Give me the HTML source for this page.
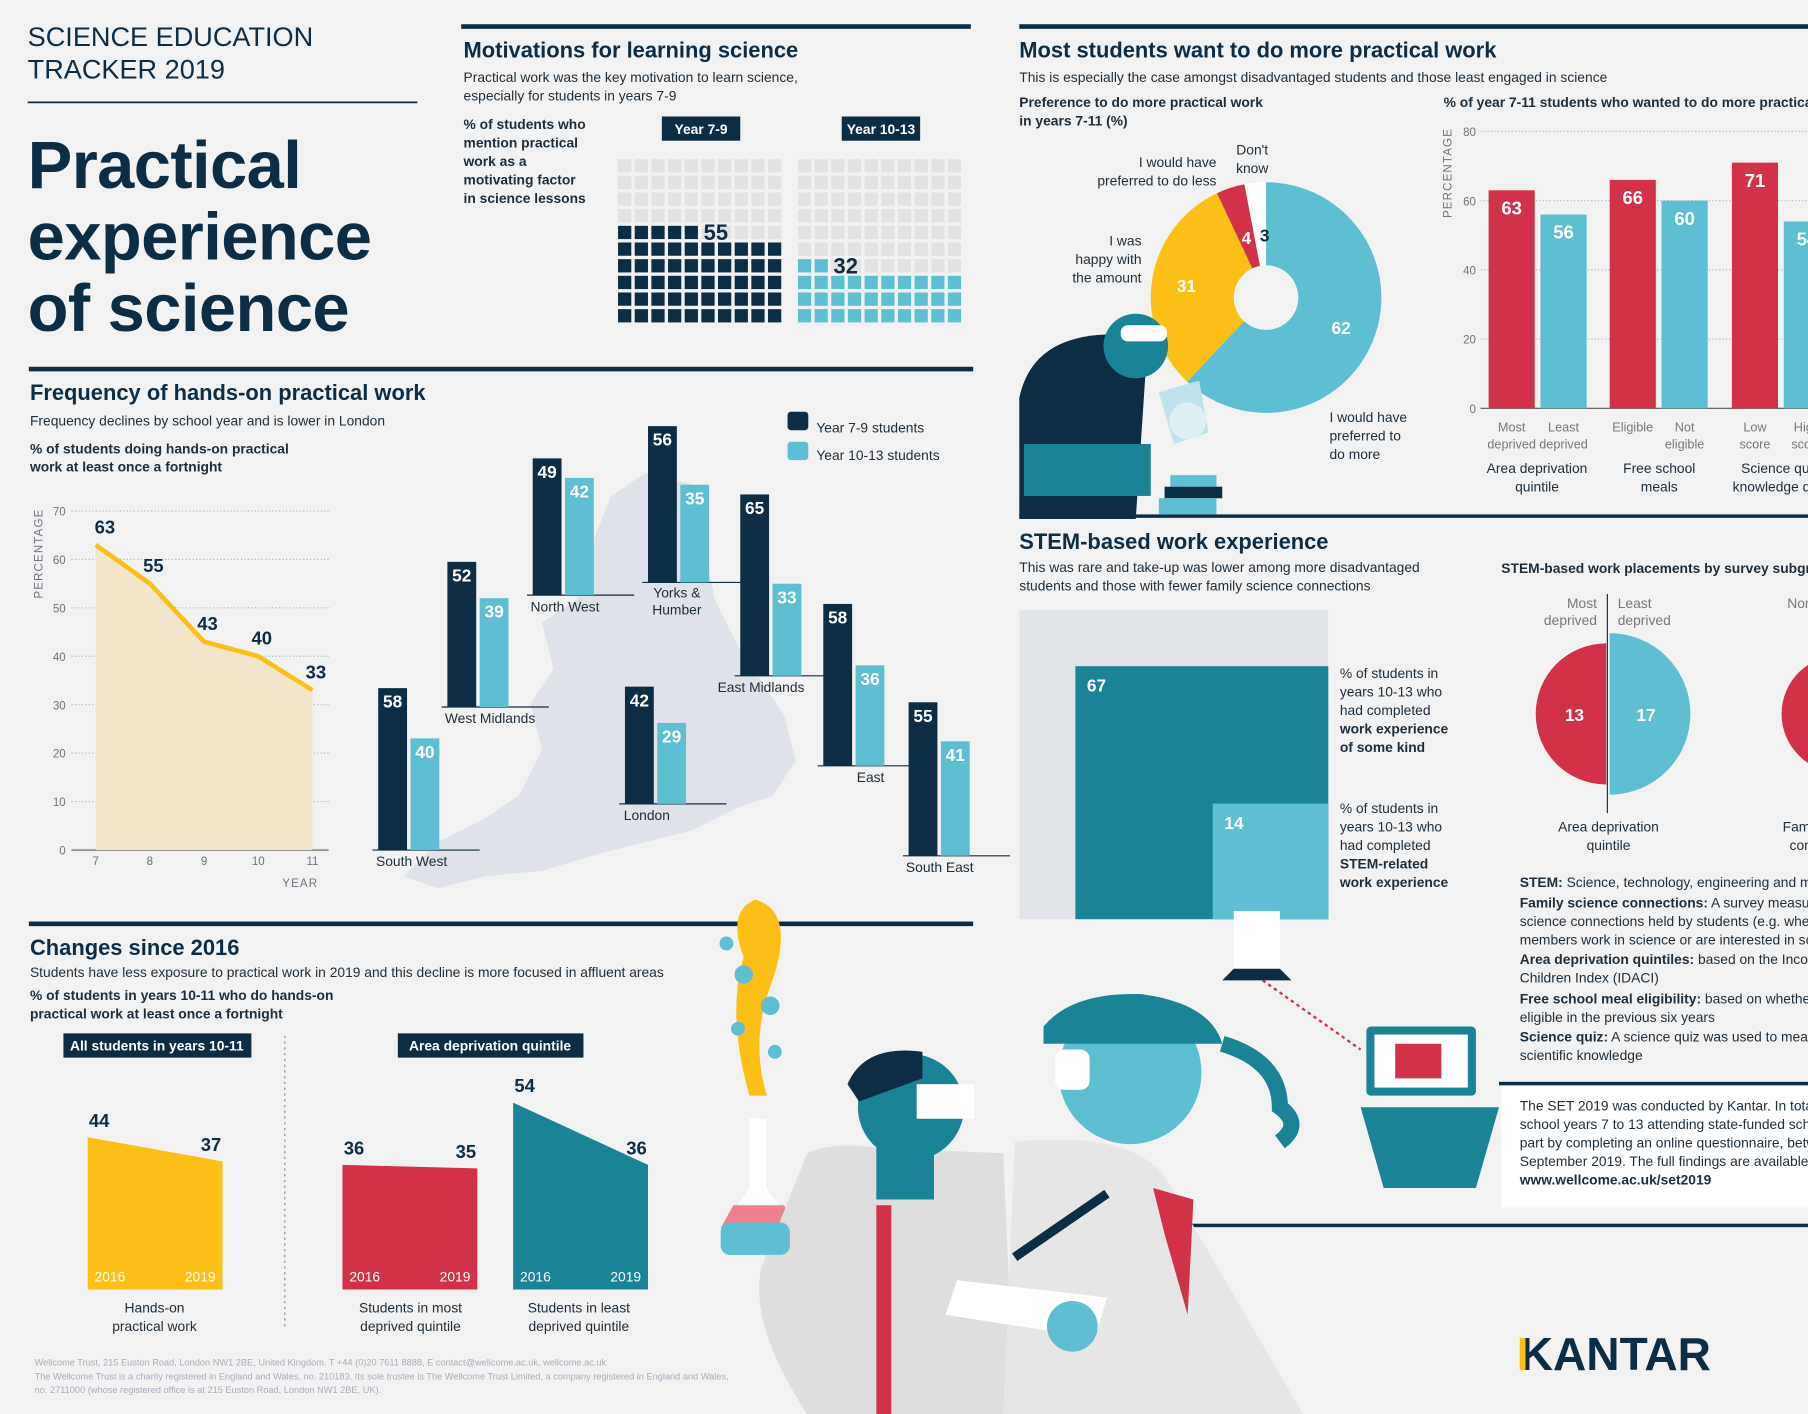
<!DOCTYPE html>
<html><head><meta charset="utf-8">
<style>
html,body{margin:0;padding:0;width:1808px;height:1414px;overflow:hidden;background:#f2f2f2}
svg{display:block;font-family:"Liberation Sans",sans-serif}
.t{fill:#0d2d44}
.s{font-size:12px;fill:#1d2d3a}
.b{font-weight:bold}
.h{font-size:19px;font-weight:bold;fill:#0d2d44}
.ax{font-size:10px;fill:#6b7480}
</style></head>
<body>
<svg id="root" width="1808" height="1414" viewBox="0 0 1568 1226" preserveAspectRatio="none" xmlns="http://www.w3.org/2000/svg">
<rect width="1568" height="1226" fill="#f2f2f2"/>
<g>
<text x="24" y="40" font-size="23.5" class="t">SCIENCE EDUCATION</text>
<text x="24" y="68" font-size="23.5" class="t">TRACKER 2019</text>
<rect x="24" y="88" width="338" height="1.5" fill="#0d2d44"/>
<text x="24" y="163" font-size="58" font-weight="bold" class="t" letter-spacing="-0.5">Practical</text>
<text x="24" y="225" font-size="58" font-weight="bold" class="t" letter-spacing="-0.5">experience</text>
<text x="24" y="287" font-size="58" font-weight="bold" class="t" letter-spacing="-0.5">of science</text>
</g>
<g fill="#0d2d44">
<rect x="400" y="21" width="442" height="4"/>
<rect x="884" y="21" width="684" height="4"/>
<rect x="25" y="318" width="819" height="4"/>
<rect x="884" y="446" width="684" height="3"/>
<rect x="25" y="799" width="819" height="4"/>
<rect x="1300" y="938" width="268" height="3"/>
<rect x="950" y="1061" width="618" height="3"/>
</g>
<g>
<text x="402" y="50" class="h">Motivations for learning science</text>
<text x="402" y="71" class="s">Practical work was the key motivation to learn science,</text>
<text x="402" y="87" class="s">especially for students in years 7-9</text>
<text x="402" y="112" class="s b">% of students who</text>
<text x="402" y="128" class="s b">mention practical</text>
<text x="402" y="144" class="s b">work as a</text>
<text x="402" y="160" class="s b">motivating factor</text>
<text x="402" y="176" class="s b">in science lessons</text>
<g id="waffles"></g>
</g>
<g>
<text x="26" y="347" class="h">Frequency of hands-on practical work</text>
<text x="26" y="369" class="s">Frequency declines by school year and is lower in London</text>
<text x="26" y="393" class="s b">% of students doing hands-on practical</text>
<text x="26" y="409" class="s b">work at least once a fortnight</text>
<text transform="translate(37,480) rotate(-90)" class="ax" text-anchor="middle" letter-spacing="1">PERCENTAGE</text>
<text x="276" y="769" class="ax" text-anchor="end" letter-spacing="1">YEAR</text>
<g id="linechart"></g>
</g>
<g>
<path d="M530 430 L560 410 L600 420 L610 470 L620 520 L640 560 L660 590 L680 620 L690 660 L670 690 L640 700 L600 720 L560 730 L520 740 L470 755 L420 760 L380 770 L350 760 L380 730 L420 710 L450 690 L470 650 L460 610 L480 580 L470 540 L500 520 L510 480 Z" fill="#dfe2e8"/>
<rect x="683" y="357" width="18" height="16" fill="#0d2d44" rx="3"/>
<text x="708" y="375" class="s">Year 7-9 students</text>
<rect x="683" y="383" width="18" height="16" fill="#5dbfd1" rx="3"/>
<text x="708" y="399" class="s">Year 10-13 students</text>
<g id="mapbars"></g>
</g>
<g>
<text x="884" y="50" class="h">Most students want to do more practical work</text>
<text x="884" y="71" class="s">This is especially the case amongst disadvantaged students and those least engaged in science</text>
<text x="884" y="93" class="s b">Preference to do more practical work</text>
<text x="884" y="109" class="s b">in years 7-11 (%)</text>
<text x="1252" y="93" class="s b">% of year 7-11 students who wanted to do more practical work</text>
<text x="1055" y="145" class="s" text-anchor="end">I would have</text>
<text x="1055" y="161" class="s" text-anchor="end">preferred to do less</text>
<text x="1086" y="134" class="s" text-anchor="middle">Don't</text>
<text x="1086" y="150" class="s" text-anchor="middle">know</text>
<text x="990" y="213" class="s" text-anchor="end">I was</text>
<text x="990" y="229" class="s" text-anchor="end">happy with</text>
<text x="990" y="245" class="s" text-anchor="end">the amount</text>
<text x="1153" y="366" class="s">I would have</text>
<text x="1153" y="382" class="s">preferred to</text>
<text x="1153" y="398" class="s">do more</text>
<g id="donut"></g>
<path d="M884 450 L884 345 Q895 292 960 290 L995 300 L985 450 Z" fill="#0d2d44"/>
<circle cx="985" cy="300" r="28" fill="#1a8396"/>
<rect x="972" y="282" width="40" height="14" fill="#fff" rx="6"/>
<rect x="888" y="385" width="110" height="45" fill="#1a8396"/>
<path d="M1005 340 L1040 330 L1048 375 L1018 385 Z" fill="#bfe3ec"/>
<circle cx="1030" cy="365" r="16" fill="#dff0f4"/>
<rect x="1015" y="412" width="40" height="10" fill="#5dbfd1"/>
<rect x="1010" y="422" width="50" height="10" fill="#0d2d44"/>
<rect x="1005" y="432" width="50" height="14" fill="#5dbfd1"/>
<g id="barchart"></g>
</g>
<g>
<text x="884" y="476" class="h">STEM-based work experience</text>
<text x="884" y="496" class="s">This was rare and take-up was lower among more disadvantaged</text>
<text x="884" y="512" class="s">students and those with fewer family science connections</text>
<text x="1302" y="497" class="s b">STEM-based work placements by survey subgroup</text>
<g id="stemsq"></g>
<text x="1162" y="588" class="s">% of students in</text>
<text x="1162" y="604" class="s">years 10-13 who</text>
<text x="1162" y="620" class="s">had completed</text>
<text x="1162" y="636" class="s b">work experience</text>
<text x="1162" y="652" class="s b">of some kind</text>
<text x="1162" y="705" class="s">% of students in</text>
<text x="1162" y="721" class="s">years 10-13 who</text>
<text x="1162" y="737" class="s">had completed</text>
<text x="1162" y="753" class="s b">STEM-related</text>
<text x="1162" y="769" class="s b">work experience</text>
<g id="halfcircles"></g>
<text x="1395" y="721" class="s" text-anchor="middle">Area deprivation</text>
<text x="1395" y="737" class="s" text-anchor="middle">quintile</text>
<text x="1546" y="721" class="s">Family</text>
<text x="1552" y="737" class="s">con</text>
<text x="1318" y="769" class="s"><tspan class="b">STEM:</tspan> Science, technology, engineering and maths</text>
<text x="1318" y="787" class="s"><tspan class="b">Family science connections:</tspan> A survey measure based on</text>
<text x="1318" y="803" class="s">science connections held by students (e.g. whether family</text>
<text x="1318" y="819" class="s">members work in science or are interested in science)</text>
<text x="1318" y="836" class="s"><tspan class="b">Area deprivation quintiles:</tspan> based on the Income Deprivation</text>
<text x="1318" y="852" class="s">Children Index (IDACI)</text>
<text x="1318" y="870" class="s"><tspan class="b">Free school meal eligibility:</tspan> based on whether the student was</text>
<text x="1318" y="886" class="s">eligible in the previous six years</text>
<text x="1318" y="903" class="s"><tspan class="b">Science quiz:</tspan> A science quiz was used to measure</text>
<text x="1318" y="919" class="s">scientific knowledge</text>
<rect x="1302" y="942" width="266" height="105" fill="#fff"/>
<text x="1318" y="963" class="s">The SET 2019 was conducted by Kantar. In total 4,081</text>
<text x="1318" y="979" class="s">school years 7 to 13 attending state-funded schools took</text>
<text x="1318" y="995" class="s">part by completing an online questionnaire, between</text>
<text x="1318" y="1011" class="s">September 2019. The full findings are available at</text>
<text x="1318" y="1027" class="s b">www.wellcome.ac.uk/set2019</text>
</g>
<g>
<text x="26" y="828" class="h">Changes since 2016</text>
<text x="26" y="847" class="s">Students have less exposure to practical work in 2019 and this decline is more focused in affluent areas</text>
<text x="26" y="867" class="s b">% of students in years 10-11 who do hands-on</text>
<text x="26" y="883" class="s b">practical work at least once a fortnight</text>
<rect x="55" y="896" width="163" height="21" fill="#0d2d44"/>
<text x="136" y="911" font-size="12" fill="#fff" font-weight="bold" text-anchor="middle">All students in years 10-11</text>
<rect x="345" y="896" width="161" height="21" fill="#0d2d44"/>
<text x="425" y="911" font-size="12" fill="#fff" font-weight="bold" text-anchor="middle">Area deprivation quintile</text>
<line x1="247" y1="898" x2="247" y2="1150" stroke="#888" stroke-dasharray="2,3"/>
<g id="changes"></g>
<text x="30" y="1184" font-size="8" fill="#aab">Wellcome Trust, 215 Euston Road, London NW1 2BE, United Kingdom. T +44 (0)20 7611 8888, E contact@wellcome.ac.uk, wellcome.ac.uk</text>
<text x="30" y="1196" font-size="8" fill="#aab">The Wellcome Trust is a charity registered in England and Wales, no. 210183. Its sole trustee is The Wellcome Trust Limited, a company registered in England and Wales,</text>
<text x="30" y="1208" font-size="8" fill="#aab">no. 2711000 (whose registered office is at 215 Euston Road, London NW1 2BE, UK).</text>
</g>
<g>
<path d="M655 780 Q690 790 670 850 Q650 900 665 950 L650 950 Q630 880 645 830 Q630 790 655 780 Z" fill="#fbbf16"/>
<circle cx="645" cy="845" r="8" fill="#5dbfd1"/><circle cx="668" cy="872" r="8" fill="#5dbfd1"/><circle cx="640" cy="892" r="6" fill="#5dbfd1"/><circle cx="630" cy="818" r="6" fill="#5dbfd1"/><circle cx="672" cy="912" r="6" fill="#5dbfd1"/>
<path d="M650 970 L665 970 L665 1030 L690 1065 L625 1065 L650 1030 Z" fill="#fff"/>
<path d="M636 1045 L680 1045 L690 1065 L625 1065 Z" fill="#f0808f"/>
<path d="M700 1000 Q720 990 760 995 L870 1000 L880 1226 L700 1226 Q650 1150 660 1100 Z" fill="#dedede"/>
<rect x="760" y="1045" width="13" height="181" fill="#d23249"/>
<circle cx="790" cy="960" r="46" fill="#1a8396"/>
<path d="M735 940 Q750 905 800 912 L800 935 L745 955 Z" fill="#0d2d44"/>
<rect x="795" y="940" width="50" height="30" fill="#fff"/>
<rect x="760" y="990" width="50" height="50" fill="#1a8396"/>
<rect x="625" y="1060" width="60" height="28" fill="#5dbfd1" rx="8"/>
<path d="M880 990 Q980 980 1010 1020 L1130 1226 L870 1226 Z" fill="#e6e6e6"/>
<path d="M1000 1030 L1035 1040 L1030 1140 L1010 1070 Z" fill="#d23249"/>
<circle cx="980" cy="930" r="62" fill="#5dbfd1"/>
<path d="M905 890 Q930 860 990 862 Q1050 870 1060 905 L905 905 Z" fill="#1a8396"/>
<path d="M1060 905 Q1110 920 1110 960 Q1130 975 1110 990" stroke="#1a8396" stroke-width="14" fill="none"/>
<rect x="915" y="910" width="30" height="35" fill="#fff" rx="8"/>
<path d="M830 1110 L960 1125 L950 1160 L820 1140 Z" fill="#fff"/>
<path d="M880 1090 L960 1035" stroke="#0d2d44" stroke-width="8"/>
<circle cx="930" cy="1150" r="22" fill="#5dbfd1"/>
<rect x="1185" y="890" width="95" height="60" fill="#1a8396" rx="4"/>
<rect x="1192" y="897" width="81" height="46" fill="#fff"/>
<rect x="1210" y="905" width="40" height="30" fill="#d23249"/>
<path d="M1180 960 L1300 960 L1280 1030 L1200 1030 Z" fill="#1a8396"/>
<line x1="1095" y1="850" x2="1180" y2="910" stroke="#d23249" stroke-width="2" stroke-dasharray="3,3"/>
<rect x="1070" y="790" width="40" height="50" fill="#fff"/>
<path d="M1060 850 L1120 850 L1110 840 L1070 840 Z" fill="#0d2d44"/>
</g>
<text x="1318" y="1188" font-size="40" font-weight="bold" class="t">KANTAR</text>
<rect x="1318" y="1160" width="5" height="28" fill="#fbbf16"/>
</svg>
<script>
const NS='http://www.w3.org/2000/svg';
function mk(tag,attrs,parent,txt){const e=document.createElementNS(NS,tag);for(const k in attrs)e.setAttribute(k,attrs[k]);if(txt!==undefined)e.textContent=txt;parent.appendChild(e);return e;}
const NAVY='#0d2d44',TEAL='#5dbfd1',DTEAL='#1a8396',RED='#d23249',YEL='#fbbf16';

const waffleGroups=['Year 7-9','Year 10-13'];
const waffleValues=[55,32];
const lineYears=[7,8,9,10,11];
const lineValues=[63,55,43,40,33];
const lineYTicks=[0,10,20,30,40,50,60,70];
const regionNames=['South West','West Midlands','North West','Yorks & Humber','East Midlands','London','East','South East'];
const regionY79=[58,52,49,56,65,42,58,55];
const regionY1013=[40,39,42,35,33,29,36,41];
const donutLabels=['I would have preferred to do more','I was happy with the amount','I would have preferred to do less',"Don't know"];
const donutValues=[62,31,4,3];
const barCategories=['Most deprived','Least deprived','Eligible','Not eligible','Low score','High score'];
const barValues=[63,56,66,60,71,54];
const barYTicks=[0,20,40,60,80];
const stemValues=[67,14];
const placementLabels=['Most deprived','Least deprived','None'];
const placementValues=[13,17,9];
const changeGroups=['Hands-on practical work','Students in most deprived quintile','Students in least deprived quintile'];
const change2016=[44,36,54];
const change2019=[37,35,36];

(function(){
  const g=document.getElementById('waffles');
  const layoutX=[536,692], cols=[NAVY,TEAL], pitch=14.45, cell=11.5, y0=138;
  waffleValues.forEach((v,gi)=>{
    const bx=layoutX[gi];
    const lab=mk('rect',{x:bx+38,y:101,width:68,height:21,fill:NAVY},g);
    
    
    mk('text',{x:bx+72,y:116,'font-size':12,fill:'#fff','font-weight':'bold','text-anchor':'middle'},g,waffleGroups[gi]);
    for(let i=0;i<100;i++){
      const r=Math.floor(i/10),c=i%10;
      const row=9-r;
      const sq=mk('rect',{x:bx+c*pitch,y:y0+row*pitch,width:cell,height:cell,fill:i<v?cols[gi]:'#e2e2e2'},g);
      
      
    }
    const fr=Math.floor(v/10),fc=v%10;
    const rowTop=y0+(9-fr)*pitch;
    const t=mk('text',{x:bx+fc*pitch+2,y:rowTop+cell+1,'font-size':19,'font-weight':'bold',fill:NAVY},g,String(v));
    
    
  });
})();

(function(){
  const g=document.getElementById('linechart');
  const x=yr=>83+(yr-7)*47, y=v=>737-v*4.2;
  lineYTicks.forEach(t=>{
    mk('line',{x1:62,x2:285,y1:y(t),y2:y(t),stroke:t===0?'#555':'#9bb',"stroke-dasharray":t===0?'':'1,2'},g);
    const lb=mk('text',{x:57,y:y(t)+4,class:'ax','text-anchor':'end'},g,String(t));
    
    
  });
  lineYears.forEach(yr=>{
    const lb=mk('text',{x:x(yr),y:750,class:'ax','text-anchor':'middle'},g,String(yr));
    
    
  });
  let d='M'+x(lineYears[0])+' '+y(0);
  lineValues.forEach((v,i)=>{d+=' L'+x(lineYears[i])+' '+y(v);});
  d+=' L'+x(lineYears[lineYears.length-1])+' '+y(0)+' Z';
  const area=mk('path',{d:d,fill:'#f3e6cc'},g);
  
  
  const pts=lineValues.map((v,i)=>x(lineYears[i])+','+y(v)).join(' ');
  const ln=mk('polyline',{points:pts,fill:'none',stroke:YEL,'stroke-width':4},g);
  
  
  lineValues.forEach((v,i)=>{
    const lb=mk('text',{x:x(lineYears[i])+(i===0?8:3),y:y(v)-10,'font-size':16,'font-weight':'bold',fill:NAVY,'text-anchor':'middle'},g,String(v));
    
    
  });
})();

(function(){
  const g=document.getElementById('mapbars');
  const layX=[328,388,462,562,642,542,714,788];
  const layBase=[737,613,516,505,586,697,664,742];
  const k=2.42,w=25,gap=3;
  const labX=[357,425,490,587,660,561,755,815];
  regionNames.forEach((n,i)=>{
    const bx=layX[i],b=layBase[i];
    mk('line',{x1:bx-5,x2:bx+2*w+gap+35,y1:b,y2:b,stroke:'#0d2d44','stroke-width':1},g);
    const h1=regionY79[i]*k,h2=regionY1013[i]*k;
    const r1=mk('rect',{x:bx,y:b-h1,width:w,height:h1,fill:NAVY},g);
    
    
    const r2=mk('rect',{x:bx+w+gap,y:b-h2,width:w,height:h2,fill:TEAL},g);
    
    
    mk('text',{x:bx+w/2,y:b-h1+17,'font-size':15,'font-weight':'bold',fill:'#fff','text-anchor':'middle'},g,String(regionY79[i]));
    mk('text',{x:bx+w+gap+w/2,y:b-h2+17,'font-size':15,'font-weight':'bold',fill:'#fff','text-anchor':'middle'},g,String(regionY1013[i]));
    if(n==='Yorks & Humber'){
      mk('text',{x:labX[i],y:b+13,class:'s','text-anchor':'middle'},g,'Yorks &');
      mk('text',{x:labX[i],y:b+28,class:'s','text-anchor':'middle'},g,'Humber');
    } else {
      const lb=mk('text',{x:labX[i],y:b+14,class:'s','text-anchor':'middle'},g,n);
      
      
    }
  });
})();

(function(){
  const g=document.getElementById('donut');
  const cx=1098,cy=258,R=100,r=28;
  const cols=[TEAL,YEL,RED,'#ffffff'];
  const tot=donutValues.reduce((a,b)=>a+b,0);
  let a0=0;
  donutValues.forEach((v,i)=>{
    const a1=a0+v/tot*2*Math.PI;
    const p=(a,rr)=>[cx+rr*Math.sin(a),cy-rr*Math.cos(a)];
    const [x0,y0]=p(a0,R),[x1,y1]=p(a1,R),[x2,y2]=p(a1,r),[x3,y3]=p(a0,r);
    const lg=(a1-a0)>Math.PI?1:0;
    const s=mk('path',{d:`M${x0} ${y0} A${R} ${R} 0 ${lg} 1 ${x1} ${y1} L${x2} ${y2} A${r} ${r} 0 ${lg} 0 ${x3} ${y3} Z`,fill:cols[i]},g);
    
    
    const am=(a0+a1)/2, rl=i<2?70:55;
    const [lx,ly]=p(am,rl);
    mk('text',{x:i===3?lx+4:lx,y:ly+6,'font-size':15,'font-weight':'bold',fill:i===3?NAVY:'#fff','text-anchor':'middle'},g,String(v));
    a0=a1;
  });
})();

(function(){
  const g=document.getElementById('barchart');
  const y=v=>354-v*3;
  const layX=[1291,1336,1396,1441,1502,1547];
  const cols=[RED,TEAL,RED,TEAL,RED,TEAL];
  mk('text',{transform:'translate(1259,150) rotate(-90)',class:'ax','text-anchor':'middle','letter-spacing':1},g,'PERCENTAGE');
  barYTicks.forEach(t=>{
    mk('line',{x1:1284,x2:1568,y1:y(t),y2:y(t),stroke:t===0?'#555':'#9bb','stroke-dasharray':t===0?'':'1,2'},g);
    mk('text',{x:1280,y:y(t)+4,class:'ax','text-anchor':'end'},g,String(t));
  });
  barValues.forEach((v,i)=>{
    const b=mk('rect',{x:layX[i],y:y(v),width:40,height:v*3,fill:cols[i]},g);
    
    
    mk('text',{x:layX[i]+20,y:y(v)+21,'font-size':16,'font-weight':'bold',fill:'#fff','text-anchor':'middle'},g,String(v));
    const w=barCategories[i].split(' ');
    mk('text',{x:layX[i]+20,y:374,'font-size':11,fill:'#777','text-anchor':'middle'},g,w[0]);
    mk('text',{x:layX[i]+20,y:389,'font-size':11,fill:'#777','text-anchor':'middle'},g,w[1]);
  });
  const grp=[['Area deprivation','quintile',1333],['Free school','meals',1439],['Science quiz','knowledge quiz',1544]];
  grp.forEach(q=>{mk('text',{x:q[2],y:410,class:'s','text-anchor':'middle'},g,q[0]);mk('text',{x:q[2],y:426,class:'s','text-anchor':'middle'},g,q[1]);});
})();

(function(){
  const g=document.getElementById('stemsq');
  const right=1152,bottom=797,full=268;
  const bg=mk('rect',{x:right-full,y:bottom-full,width:full,height:full,fill:'#e1e4e9'},g);
  
  
  const cols=[DTEAL,TEAL];
  stemValues.forEach((v,i)=>{
    const s=Math.sqrt(v/100)*full;
    const r=mk('rect',{x:right-s,y:bottom-s,width:s,height:s,fill:cols[i]},g);
    
    
    mk('text',{x:right-s+10,y:bottom-s+22,'font-size':15,'font-weight':'bold',fill:'#fff'},g,String(v));
  });
})();

(function(){
  const g=document.getElementById('halfcircles');
  const k=70/Math.sqrt(17);
  const cxs=[1393,1396,1596],cy=619,cols=[RED,TEAL,RED],dir=[-1,1,-1];
  placementValues.forEach((v,i)=>{
    const r=Math.sqrt(v)*k,cx=cxs[i];
    const sw=dir[i]<0?0:1;
    const p=mk('path',{d:`M${cx} ${cy-r} A${r} ${r} 0 0 ${sw} ${cx} ${cy+r} Z`,fill:cols[i]},g);
    
    
    mk('text',{x:cx+dir[i]*r*0.45,y:cy+6,'font-size':15,'font-weight':'bold',fill:'#fff','text-anchor':'middle'},g,String(v));
  });
  mk('line',{x1:1394,x2:1394,y1:515,y2:705,stroke:'#0d2d44'},g);
  mk('text',{x:1385,y:527,'font-size':12,fill:'#777','text-anchor':'end'},g,'Most');
  mk('text',{x:1385,y:542,'font-size':12,fill:'#777','text-anchor':'end'},g,'deprived');
  mk('text',{x:1403,y:527,'font-size':12,fill:'#777'},g,'Least');
  mk('text',{x:1403,y:542,'font-size':12,fill:'#777'},g,'deprived');
  mk('text',{x:1550,y:527,'font-size':12,fill:'#777'},g,'Non');
})();

(function(){
  const g=document.getElementById('changes');
  const layX=[76,297,445],w=117,base=1118,k=3;
  const cols=[YEL,RED,DTEAL];
  changeGroups.forEach((n,i)=>{
    const x=layX[i];
    const p=mk('polygon',{points:`${x},${base} ${x},${base-change2016[i]*k} ${x+w},${base-change2019[i]*k} ${x+w},${base}`,fill:cols[i]},g);
    
    
    mk('text',{x:x+10,y:base-change2016[i]*k-9,'font-size':16,'font-weight':'bold',fill:NAVY,'text-anchor':'middle'},g,String(change2016[i]));
    mk('text',{x:x+w-10,y:base-change2019[i]*k-9,'font-size':16,'font-weight':'bold',fill:NAVY,'text-anchor':'middle'},g,String(change2019[i]));
    mk('text',{x:x+6,y:base-7,'font-size':12,fill:'#fff'},g,'2016');
    mk('text',{x:x+w-6,y:base-7,'font-size':12,fill:'#fff','text-anchor':'end'},g,'2019');
  });
  const labs=[['Hands-on','practical work',134],['Students in most','deprived quintile',356],['Students in least','deprived quintile',502]];
  labs.forEach(l=>{mk('text',{x:l[2],y:1138,class:'s','text-anchor':'middle'},g,l[0]);mk('text',{x:l[2],y:1154,class:'s','text-anchor':'middle'},g,l[1]);});
})();
</script>
</body></html>
